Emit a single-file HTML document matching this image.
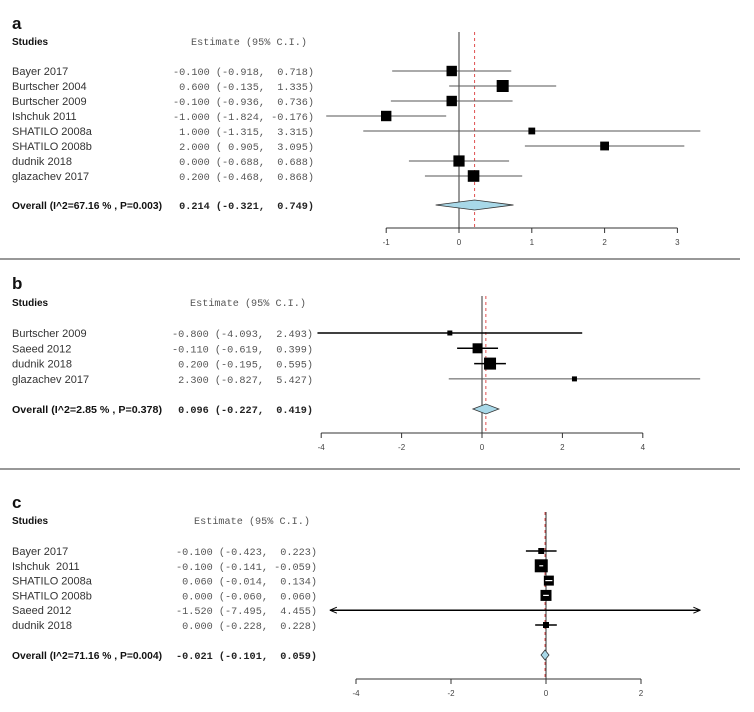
<!DOCTYPE html>
<html><head><meta charset="utf-8"><style>
html,body{margin:0;padding:0;background:#fff}
svg{display:block}
svg text{white-space:pre}
</style></head><body>
<svg id="chart" width="754" height="712" viewBox="0 0 754 712" xmlns="http://www.w3.org/2000/svg"></svg>
<script>
// ---- Panel a data ----
const studiesA = ["Bayer 2017","Burtscher 2004","Burtscher 2009","Ishchuk 2011","SHATILO 2008a","SHATILO 2008b","dudnik 2018","glazachev 2017"];
const estA  = [-0.1, 0.6, -0.1, -1.0, 1.0, 2.0, 0.0, 0.2];
const lowA  = [-0.918, -0.135, -0.936, -1.824, -1.315, 0.905, -0.688, -0.468];
const highA = [0.718, 1.335, 0.736, -0.176, 3.315, 3.095, 0.688, 0.868];
const weightA = [5.2, 6, 5.2, 5.2, 3.4, 4.4, 5.6, 5.8];
const overallA = [0.214, -0.321, 0.749];
const overallLabelA = "Overall (I^2=67.16 % , P=0.003)";
const ticksA = [-1, 0, 1, 2, 3];
// ---- Panel b data ----
const studiesB = ["Burtscher 2009","Saeed 2012","dudnik 2018","glazachev 2017"];
const estB  = [-0.8, -0.11, 0.2, 2.3];
const lowB  = [-4.093, -0.619, -0.195, -0.827];
const highB = [2.493, 0.399, 0.595, 5.427];
const weightB = [2.5, 5, 6, 2.5];
const overallB = [0.096, -0.227, 0.419];
const overallLabelB = "Overall (I^2=2.85 % , P=0.378)";
const ticksB = [-4, -2, 0, 2, 4];
// ---- Panel c data ----
const studiesC = ["Bayer 2017","Ishchuk  2011","SHATILO 2008a","SHATILO 2008b","Saeed 2012","dudnik 2018"];
const estC  = [-0.1, -0.1, 0.06, 0.0, -1.52, 0.0];
const lowC  = [-0.423, -0.141, -0.014, -0.06, -7.495, -0.228];
const highC = [0.223, -0.059, 0.134, 0.06, 4.455, 0.228];
const weightC = [3, 6.5, 5, 5.5, 0.6, 3];
const overallC = [-0.021, -0.101, 0.059];
const overallLabelC = "Overall (I^2=71.16 % , P=0.004)";
const ticksC = [-4, -2, 0, 2];

const NS = "http://www.w3.org/2000/svg";
const svg = document.getElementById("chart");
function mk(tag, attrs, parent, text){
  const e = document.createElementNS(NS, tag);
  for (const k in attrs) e.setAttribute(k, attrs[k]);
  if (text !== undefined) e.textContent = text;
  (parent || svg).appendChild(e);
  return e;
}
function fmt(v){ return (v < 0 ? "-" : " ") + Math.abs(v).toFixed(3); }
function ciText(e, l, h){
  return fmt(e) + " (" + fmt(l) + ", " + fmt(h) + ")";
}

function panel(cfg){
  const g = mk("g", {});
  
  
  const x = v => cfg.x0 + v * cfg.unit;
  const rowY = i => cfg.row0 + i * cfg.rowStep;
  const clip = v => Math.max(cfg.clipMin, Math.min(cfg.clipMax, v));

  let t = mk("text", {x: 12, y: cfg.letterY, "font-family": "Liberation Sans, sans-serif", "font-size": 17, "font-weight": "bold", fill: "#111"}, g, cfg.letter);
  
  
  t = mk("text", {x: 12, y: cfg.headY, "font-family": "Liberation Sans, sans-serif", "font-size": 10, "font-weight": "bold", fill: "#111"}, g, "Studies");
  
  
  t = mk("text", {x: cfg.estX + 18, y: cfg.headY, "font-family": "Liberation Mono, monospace", "font-size": 10, fill: "#555", textLength: 116, lengthAdjust: "spacingAndGlyphs"}, g, "Estimate (95% C.I.)");
  
  

  let ln = mk("line", {x1: x(0), x2: x(0), y1: cfg.zeroTop, y2: cfg.axisY, stroke: "#333", "stroke-width": 1}, g);
  
  
  ln = mk("line", {x1: x(cfg.overall[0]), x2: x(cfg.overall[0]), y1: cfg.zeroTop, y2: cfg.axisY, stroke: "#e05050", "stroke-width": 1, "stroke-dasharray": "3,3"}, g);
  
  

  cfg.studies.forEach((s, i) => {
    const y = rowY(i);
    let tt = mk("text", {x: 12, y: y + 4, "font-family": "Liberation Sans, sans-serif", "font-size": 11, fill: "#333"}, g, s);
    
    
    tt = mk("text", {x: cfg.estX, y: y + 4, "font-family": "Liberation Mono, monospace", "font-size": 10, fill: "#555", textLength: 141, lengthAdjust: "spacingAndGlyphs"}, g, ciText(cfg.est[i], cfg.low[i], cfg.high[i]));
    
    
    const lo = clip(cfg.low[i]), hi = clip(cfg.high[i]);
    const thick = cfg.heavy && cfg.heavy[i];
    const l = mk("line", {x1: x(lo), x2: x(hi), y1: y, y2: y, stroke: thick ? "#000" : "#555", "stroke-width": thick ? 1.5 : 1}, g);
    
    
    if (cfg.low[i] < cfg.clipMin) {
      const a = mk("path", {d: `M${x(lo)} ${y} l7 -3 M${x(lo)} ${y} l7 3`, stroke: "#000", fill: "none"}, g);
      
      
    }
    if (cfg.high[i] > cfg.clipMax) {
      const a = mk("path", {d: `M${x(hi)} ${y} l-7 -3 M${x(hi)} ${y} l-7 3`, stroke: "#000", fill: "none"}, g);
      
      
    }
    const h = cfg.weight[i];
    const r = mk("rect", {x: x(cfg.est[i]) - h, y: y - h, width: 2 * h, height: 2 * h, fill: "#000"}, g);
    
    
    if (cfg.whiteInside && (x(hi) - x(lo)) < 2 * h) {
      const w = mk("line", {x1: x(lo), x2: x(hi), y1: y, y2: y, stroke: "#fff", "stroke-width": 1.2}, g);
      
      
    }
  });

  const oy = cfg.overallY;
  let tt = mk("text", {x: 12, y: oy + 4, "font-family": "Liberation Sans, sans-serif", "font-size": 10.5, "font-weight": "bold", fill: "#111", textLength: 150, lengthAdjust: "spacingAndGlyphs"}, g, cfg.overallLabel);
  
  
  tt = mk("text", {x: cfg.estX, y: oy + 4, "font-family": "Liberation Mono, monospace", "font-size": 10, "font-weight": "bold", fill: "#222", textLength: 141, lengthAdjust: "spacingAndGlyphs"}, g, ciText(cfg.overall[0], cfg.overall[1], cfg.overall[2]));
  
  
  let dl = x(cfg.overall[1]), dr = x(cfg.overall[2]), dc = x(cfg.overall[0]);
  if (dr - dl < 8) { dl = dc - 4; dr = dc + 4; }
  const d = mk("path", {d: `M${dl} ${oy} L${dc} ${oy - 5} L${dr} ${oy} L${dc} ${oy + 5} Z`, fill: "#a8d8e8", stroke: "#333", "stroke-width": 0.8}, g);
  
  

  const ax = mk("line", {x1: x(cfg.ticks[0]), x2: x(cfg.ticks[cfg.ticks.length - 1]), y1: cfg.axisY, y2: cfg.axisY, stroke: "#333", "stroke-width": 1}, g);
  
  
  cfg.ticks.forEach(v => {
    const tk = mk("line", {x1: x(v), x2: x(v), y1: cfg.axisY, y2: cfg.axisY + 5, stroke: "#333"}, g);
    
    
    const tl = mk("text", {x: x(v), y: cfg.axisY + 17, "text-anchor": "middle", "font-family": "Liberation Sans, sans-serif", "font-size": 8, fill: "#444"}, g, String(v));
    
    
  });
}

panel({letter: "a", letterY: 29, headY: 45, row0: 71, rowStep: 15.0, overallY: 205, axisY: 228, zeroTop: 32,
  x0: 459, unit: 72.8, clipMin: -10, clipMax: 10, estX: 173,
  studies: studiesA, est: estA, low: lowA, high: highA, weight: weightA, overall: overallA, overallLabel: overallLabelA, ticks: ticksA});
panel({letter: "b", letterY: 289, headY: 306, row0: 333, rowStep: 15.3, overallY: 409, axisY: 433, zeroTop: 296,
  x0: 482, unit: 40.2, clipMin: -10, clipMax: 10, estX: 172, heavy: [true, true, true, false],
  studies: studiesB, est: estB, low: lowB, high: highB, weight: weightB, overall: overallB, overallLabel: overallLabelB, ticks: ticksB});
panel({letter: "c", letterY: 508, headY: 524, row0: 551, rowStep: 14.8, overallY: 655, axisY: 679, zeroTop: 512,
  x0: 546, unit: 47.5, clipMin: -4.55, clipMax: 3.25, estX: 176, heavy: [true, true, true, true, true, true], whiteInside: true,
  studies: studiesC, est: estC, low: lowC, high: highC, weight: weightC, overall: overallC, overallLabel: overallLabelC, ticks: ticksC});

[259, 469].forEach(y => {
  const s = mk("line", {x1: 0, x2: 740, y1: y, y2: y, stroke: "#777", "stroke-width": 1.5});
  
  
});
</script>
</body></html>
